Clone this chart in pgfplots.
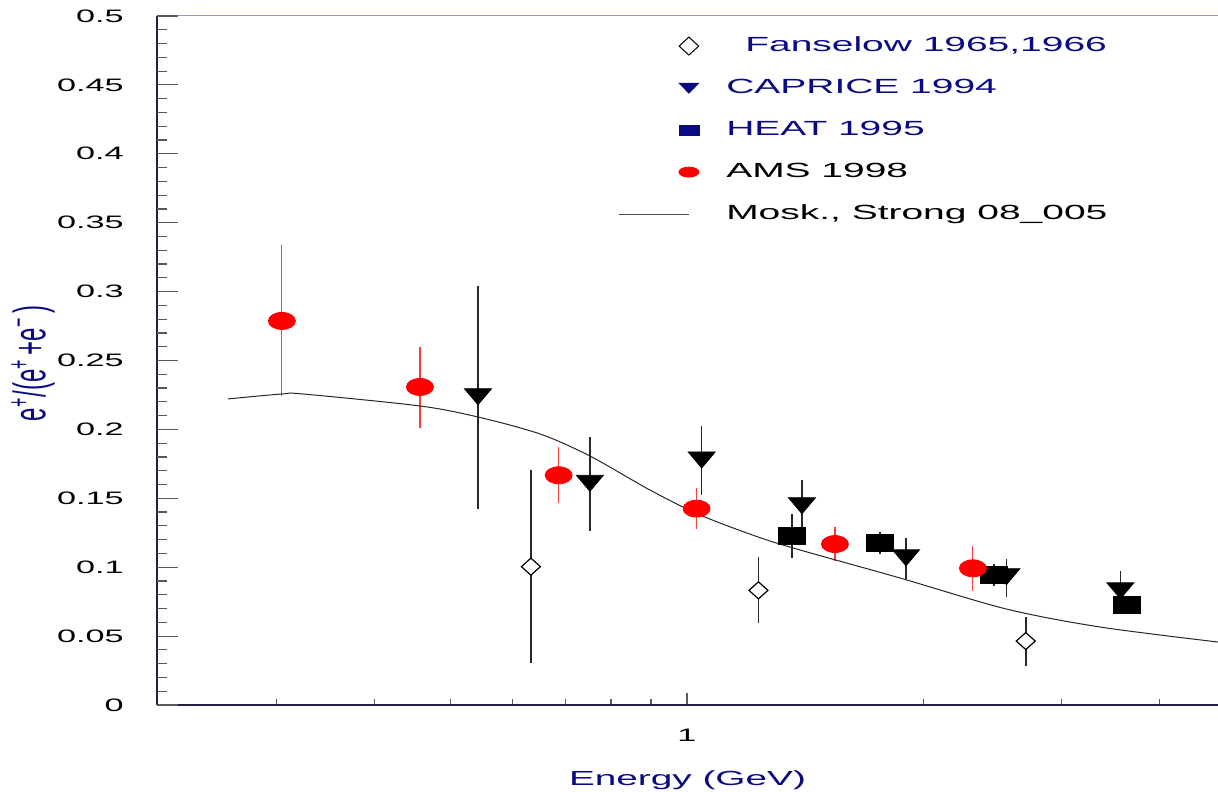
\documentclass[border=0pt]{standalone}
\usepackage{fontspec}
\setmainfont{Liberation Sans}[FakeStretch=1.9]
\newfontfamily\plainsans{Liberation Sans}
\usepackage{pgfplots}
\pgfplotsset{compat=1.18}
\definecolor{navy}{RGB}{10,10,130}
\definecolor{axisc}{RGB}{30,30,70}
\definecolor{topc}{RGB}{150,150,200}
\definecolor{ams}{RGB}{255,0,0}
\definecolor{amsbar}{RGB}{255,60,60}
\definecolor{barc}{RGB}{40,40,40}
\begin{document}
\begin{tikzpicture}
\path[use as bounding box] (-78.5pt,-43pt) rectangle (530.5pt,352.5pt);
\begin{axis}[
  scale only axis, width=530.5pt, height=344.5pt,
  xmode=log, xmin=0.2113, xmax=4.747, ymin=0, ymax=0.5,
  axis lines=left, axis line style={-, color=axisc, line width=0.75pt},
  tick align=inside,
  /pgf/number format/assume math mode=true,
  xtick={1}, xticklabels={1},
  minor xtick={0.3,0.4,0.5,0.6,0.7,0.8,0.9,2,3,4},
  major tick length=6pt, minor tick length=3pt,
  tick style={color=black!65, line width=0.6pt},
  ytick=\empty, yminorticks=false,
  xticklabel style={font=\fontsize{9}{10}\selectfont, anchor=north, inner sep=0pt, yshift=-12pt},
  xlabel={Energy (GeV)},
  xlabel style={at={([yshift=-40pt]rel axis cs:0.5,0)}, anchor=base, color=navy, font=\fontsize{10.2}{12}\selectfont},
  ylabel={\scalebox{1}[1.9]{\plainsans\fontsize{12}{14}\selectfont e\textsuperscript{+}/(e\textsuperscript{+}\,+e\textsuperscript{−}\,)}},
  ylabel style={at={([xshift=-62pt]rel axis cs:0,0.496)}, anchor=center, color=navy},
  legend style={draw=none, fill=none, at={(rel axis cs:0.4345,0.9714)}, anchor=north west,
     inner sep=0pt, row sep=11pt, column sep=13.5pt,
     font=\fontsize{10.25}{12}\selectfont,
     nodes={inner sep=0pt, text height=7.5pt, text depth=2.5pt}},
  legend cell align=left,
]
\draw[color=topc, line width=0.5pt] (rel axis cs:0,1) -- (rel axis cs:1,1);

% Fanselow 1965,1966
\addplot[forget plot, only marks, color=black, mark=diamond*, mark size=4.25pt,
  mark options={fill=white, draw=black, xscale=1.49, line width=0.6pt},
  error bars/.cd, y dir=both, y explicit, error mark=none,
  error bar style={color=barc, line width=0.75pt}]
coordinates {
 (0.6327,0.1004) += (0,0.0699) -= (0,0.0697)
 (1.2332,0.0832) += (0,0.0242) -= (0,0.0235)
 (2.701,0.0464)  += (0,0.0177) -= (0,0.0179)
};

% HEAT 1995
\addplot[forget plot, only marks, color=black, mark=square*, mark size=4.25pt,
  mark options={xscale=1.59},
  error bars/.cd, y dir=both, y explicit, error mark=none,
  error bar style={color=barc, line width=0.75pt}]
coordinates {
 (1.3607,0.1226) += (0,0.0158) -= (0,0.0161)
 (1.762,0.1173)  += (0,0.0082) -= (0,0.0079)
 (2.461,0.0943)  += (0,0.0080) -= (0,0.0080)
 (3.636,0.0727)  += (0,0.0060) -= (0,0.0060)
};

% CAPRICE 1994
\addplot[forget plot, only marks, color=black, mark=triangle*, mark size=5.33pt,
  mark options={yshift=1.33pt, rotate=180, xscale=1.46},
  error bars/.cd, y dir=both, y explicit, error mark=none,
  error bar style={color=barc, line width=0.75pt}]
coordinates {
 (0.5417,0.2237) += (0,0.0806) -= (0,0.0812)
 (0.7522,0.1609) += (0,0.0336) -= (0,0.0344)
 (1.0441,0.1778) += (0,0.0247) -= (0,0.0254)
 (1.401,0.1446)  += (0,0.0187) -= (0,0.0162)
 (1.901,0.1068)  += (0,0.0146) -= (0,0.0154)
 (2.552,0.0931)  += (0,0.0131) -= (0,0.0145)
 (3.565,0.0829)  += (0,0.0143) -= (0,0.0100)
};

% AMS 1998
\addplot[forget plot, only marks, color=ams, mark=*, mark size=4.25pt,
  mark options={xscale=1.59},
  error bars/.cd, y dir=both, y explicit, error mark=none,
  error bar style={color=amsbar, line width=0.6pt}]
coordinates {
 (0.3048,0.2787) += (0,0.0551) -= (0,0.0542)
 (0.4569,0.2308) += (0,0.0292) -= (0,0.0296)
 (0.6864,0.1667) += (0,0.0203) -= (0,0.0202)
 (1.0286,0.1425) += (0,0.0152) -= (0,0.0150)
 (1.5435,0.1168) += (0,0.0122) -= (0,0.0121)
 (2.313,0.0992)  += (0,0.0164) -= (0,0.0165)
};

% Mosk., Strong 08_005
\addplot[forget plot, smooth, color=black!85, line width=0.5pt] coordinates {
 (0.2602,0.2221) (0.3048,0.2257) (0.3242,0.2257) (0.4569,0.2170)
 (0.5417,0.2090) (0.6498,0.1967) (0.7522,0.1807) (0.8971,0.1560)
 (1.0389,0.1379) (1.232,0.1219) (1.393,0.1125) (1.867,0.0922)
 (2.55,0.0697) (3.358,0.0566) (4.747,0.0457)
};

% legend
\addlegendimage{legend image code/.code={
  \path (0pt,0pt) (40pt,0pt);
  \draw[black, fill=white, line width=0.5pt] plot[only marks, mark=diamond*, mark size=4.5pt, mark options={xscale=1.45}] coordinates {(35pt,0pt)};}}
\addlegendentry{\textcolor{navy}{\hspace{9.5pt}Fanselow 1965,1966}}
\addlegendimage{legend image code/.code={
  \path (0pt,0pt) (40pt,0pt);
  \fill[navy] plot[only marks, mark=triangle*, mark size=3.33pt, mark options={yshift=0.8pt, rotate=180, xscale=1.7}] coordinates {(35pt,0pt)};}}
\addlegendentry{\textcolor{navy}{CAPRICE 1994}}
\addlegendimage{legend image code/.code={
  \path (0pt,0pt) (40pt,0pt);
  \fill[navy] plot[only marks, mark=square*, mark size=2.5pt, mark options={xscale=2}] coordinates {(35pt,0pt)};}}
\addlegendentry{\textcolor{navy}{HEAT 1995}}
\addlegendimage{legend image code/.code={
  \path (0pt,0pt) (40pt,0pt);
  \fill[ams] plot[only marks, mark=*, mark size=2.5pt, mark options={xscale=2}] coordinates {(35pt,0pt)};}}
\addlegendentry{AMS 1998}
\addlegendimage{legend image code/.code={
  \path (0pt,0pt) (40pt,0pt);
  \draw[black!70, line width=0.5pt] (0pt,0pt) -- (35pt,0pt);}}
\addlegendentry{Mosk., Strong 08\_005}
\end{axis}
\begin{axis}[
  scale only axis, width=530.5pt, height=344.5pt,
  xmode=log, xmin=0.2113, xmax=4.747, ymin=0, ymax=0.5,
  axis lines=left, axis line style={draw=none},
  tick align=inside,
  /pgf/number format/assume math mode=true,
  xtick=\empty, xminorticks=false,
  ytick={0,0.05,0.1,0.15,0.2,0.25,0.3,0.35,0.4,0.45,0.5},
  yticklabels={0,0.05,0.1,0.15,0.2,0.25,0.3,0.35,0.4,0.45,0.5},
  minor y tick num=4,
  major tick length=10.5pt, minor tick length=5pt,
  tick style={color=black!65, line width=0.6pt},
  yticklabel style={font=\fontsize{9}{10}\selectfont, anchor=east, inner sep=0pt, xshift=-16.5pt},
]
\end{axis}
\end{tikzpicture}
\end{document}
